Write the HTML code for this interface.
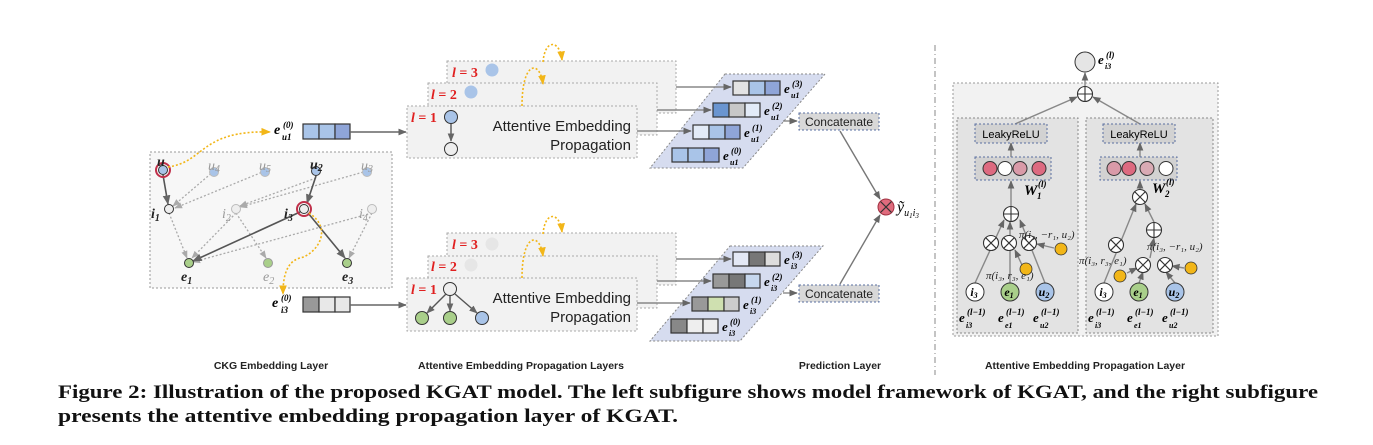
<!DOCTYPE html>
<html><head><meta charset="utf-8"><style>
html,body{margin:0;padding:0;background:#fff;}
svg{display:block;}
.s{font-family:"Liberation Sans",sans-serif;}
.m{font-family:"Liberation Serif",serif;font-style:italic;font-weight:bold;}
</style></head><body>
<svg width="1373" height="445" viewBox="0 0 1373 445" xmlns="http://www.w3.org/2000/svg">
<defs>
<marker id="a" viewBox="0 0 10 10" refX="9" refY="5" markerWidth="6" markerHeight="6" orient="auto"><path d="M0,1 L10,5 L0,9z" fill="#666"/></marker>
<marker id="ag" viewBox="0 0 10 10" refX="9" refY="5" markerWidth="6" markerHeight="6" orient="auto"><path d="M0,1 L10,5 L0,9z" fill="#aaa"/></marker>
<marker id="ay" viewBox="0 0 10 10" refX="9" refY="5" markerWidth="6" markerHeight="6" orient="auto"><path d="M0,1 L10,5 L0,9z" fill="#f2b618"/></marker>
</defs>

<!-- CKG box -->
<rect x="150" y="152" width="242" height="136" fill="#f7f7f7" stroke="#999" stroke-dasharray="2,2"/>
<g stroke="#aaa" stroke-width="1.3" stroke-dasharray="2,2" fill="none" marker-end="url(#ag)">
<line x1="214" y1="171" x2="173" y2="206"/>
<line x1="265" y1="171" x2="175" y2="208"/>
<line x1="367" y1="171" x2="240" y2="207"/>
<line x1="316" y1="178" x2="240" y2="206"/>
<line x1="169" y1="213" x2="187" y2="258"/>
<line x1="236" y1="213" x2="192" y2="258"/>
<line x1="236" y1="213" x2="266" y2="258"/>
<line x1="372" y1="213" x2="193" y2="262"/>
<line x1="372" y1="213" x2="349" y2="258"/>
</g>
<g stroke="#555" stroke-width="1.6" fill="none" marker-end="url(#a)">
<line x1="163" y1="175" x2="168" y2="204"/>
<line x1="316" y1="176" x2="307" y2="203"/>
<line x1="300" y1="212" x2="193" y2="261"/>
<line x1="308" y1="213" x2="345" y2="258"/>
</g>
<g stroke="#333" stroke-width="1">
<circle cx="163" cy="170" r="7" fill="none" stroke="#c0304a" stroke-width="2"/>
<circle cx="163" cy="170" r="4.5" fill="#a9c4e8"/>
<circle cx="214" cy="172" r="4.5" fill="#a9c4e8" stroke="#bbb"/>
<circle cx="265" cy="172" r="4.5" fill="#a9c4e8" stroke="#bbb"/>
<circle cx="316" cy="171" r="4.5" fill="#a9c4e8"/>
<circle cx="367" cy="172" r="4.5" fill="#a9c4e8" stroke="#bbb"/>
<circle cx="169" cy="209" r="4.5" fill="#eee"/>
<circle cx="236" cy="209" r="4.5" fill="#eee" stroke="#bbb"/>
<circle cx="304" cy="209" r="7" fill="none" stroke="#c0304a" stroke-width="2"/>
<circle cx="304" cy="209" r="4.5" fill="#eee"/>
<circle cx="372" cy="209" r="4.5" fill="#eee" stroke="#bbb"/>
<circle cx="189" cy="263" r="4.5" fill="#a9cf8a"/>
<circle cx="268" cy="263" r="4.5" fill="#a9cf8a" stroke="#999"/>
<circle cx="347" cy="263" r="4.5" fill="#a9cf8a"/>
</g>
<g class="m" font-size="14">
<text x="157" y="166" fill="#222">u</text>
<text x="208" y="170" fill="#999" font-weight="normal">u<tspan font-size="10" dy="2">4</tspan></text>
<text x="259" y="170" fill="#999" font-weight="normal">u<tspan font-size="10" dy="2">5</tspan></text>
<text x="310" y="169" fill="#222">u<tspan font-size="10" dy="2">2</tspan></text>
<text x="361" y="170" fill="#999" font-weight="normal">u<tspan font-size="10" dy="2">3</tspan></text>
<text x="151" y="218" fill="#222">i<tspan font-size="10" dy="3">1</tspan></text>
<text x="222" y="218" fill="#999" font-weight="normal">i<tspan font-size="10" dy="3">2</tspan></text>
<text x="284" y="218" fill="#222">i<tspan font-size="10" dy="3">3</tspan></text>
<text x="359" y="218" fill="#999" font-weight="normal">i<tspan font-size="10" dy="3">4</tspan></text>
<text x="181" y="281" fill="#222">e<tspan font-size="10" dy="3">1</tspan></text>
<text x="263" y="281" fill="#999" font-weight="normal">e<tspan font-size="10" dy="3">2</tspan></text>
<text x="342" y="281" fill="#222">e<tspan font-size="10" dy="3">3</tspan></text>
</g>

<!-- e labels + input bars -->
<text class="m" font-size="14" x="274" y="134">e<tspan x="283" y="128" font-size="9">(0)</tspan><tspan x="282" y="140" font-size="9">u1</tspan></text>
<g stroke="#333" stroke-width="1.2">
<rect x="303" y="124" width="16" height="15" fill="#a9c4e8"/><rect x="319" y="124" width="16" height="15" fill="#a9c4e8"/><rect x="335" y="124" width="15" height="15" fill="#8fa5d8"/>
<rect x="303" y="297" width="16" height="15" fill="#999"/><rect x="319" y="297" width="16" height="15" fill="#e8e8e8"/><rect x="335" y="297" width="15" height="15" fill="#e8e8e8"/>
</g>
<text class="m" font-size="14" x="272" y="307">e<tspan x="281" y="301" font-size="9">(0)</tspan><tspan x="281" y="313" font-size="9">i3</tspan></text>
<g stroke="#666" stroke-width="1.4" marker-end="url(#a)">
<line x1="350" y1="132" x2="406" y2="132"/>
<line x1="350" y1="305" x2="406" y2="305"/>
</g>

<!-- propagation boxes -->
<g fill="#f2f2f2" stroke="#aaa" stroke-dasharray="2,2">
<rect x="447" y="61" width="229" height="52"/>
<rect x="428" y="83" width="229" height="52"/>
<rect x="407" y="106" width="230" height="52"/>
<rect x="447" y="233" width="229" height="52"/>
<rect x="428" y="256" width="229" height="52"/>
<rect x="407" y="278" width="230" height="53"/>
</g>
<!-- yellow curves -->
<g stroke="#f2b618" stroke-width="1.6" stroke-dasharray="2,2" fill="none" marker-end="url(#ay)">
<path d="M168,167 C205,162 200,130 270,132"/>
<path d="M309,213 C335,230 315,255 300,258 C285,262 283,280 283,294"/>
<path d="M522,106 C522,60 540,60 543,84"/>
<path d="M543,62 C545,38 560,40 562,60"/>
<path d="M522,278 C522,232 540,232 543,256"/>
<path d="M543,234 C545,210 560,212 562,232"/>
</g>
<g fill="#e02020" font-family="Liberation Serif,serif" font-weight="bold" font-size="14">
<text x="452" y="77"><tspan font-style="italic">l</tspan> = 3</text>
<text x="431" y="99"><tspan font-style="italic">l</tspan> = 2</text>
<text x="411" y="122"><tspan font-style="italic">l</tspan> = 1</text>
<text x="452" y="249"><tspan font-style="italic">l</tspan> = 3</text>
<text x="431" y="271"><tspan font-style="italic">l</tspan> = 2</text>
<text x="411" y="294"><tspan font-style="italic">l</tspan> = 1</text>
</g>
<circle cx="492" cy="70" r="6.5" fill="#a9c4e8"/>
<circle cx="471" cy="92" r="6.5" fill="#a9c4e8"/>
<circle cx="451" cy="117" r="6.5" fill="#a9c4e8" stroke="#333"/>
<line x1="451" y1="124" x2="451" y2="141" stroke="#555" stroke-width="1.4" marker-end="url(#a)"/>
<circle cx="451" cy="149" r="6.5" fill="#eee" stroke="#333"/>
<circle cx="492" cy="244" r="6.5" fill="#e6e6e6"/>
<circle cx="471" cy="265" r="6.5" fill="#e6e6e6"/>
<circle cx="450" cy="289" r="6.5" fill="#eee" stroke="#333"/>
<g stroke="#555" stroke-width="1.4" marker-end="url(#a)">
<line x1="446" y1="294" x2="427" y2="313"/>
<line x1="450" y1="296" x2="450" y2="311"/>
<line x1="455" y1="294" x2="477" y2="313"/>
</g>
<circle cx="422" cy="318" r="6.5" fill="#a9cf8a" stroke="#333"/>
<circle cx="450" cy="318" r="6.5" fill="#a9cf8a" stroke="#333"/>
<circle cx="482" cy="318" r="6.5" fill="#a9c4e8" stroke="#333"/>
<g class="s" font-size="15" fill="#222" text-anchor="end">
<text x="631" y="131">Attentive Embedding</text>
<text x="631" y="150">Propagation</text>
<text x="631" y="303">Attentive Embedding</text>
<text x="631" y="322">Propagation</text>
</g>

<!-- parallelograms -->
<polygon points="725,74 825,74 743,168 650,168" fill="#d6dcef" stroke="#888" stroke-dasharray="2,2"/>
<polygon points="730,246 823,246 740,341 650,341" fill="#d6dcef" stroke="#888" stroke-dasharray="2,2"/>
<g stroke="#888" stroke-width="1.4" marker-end="url(#a)">
<line x1="676" y1="87" x2="731" y2="87"/>
<line x1="657" y1="110" x2="711" y2="110"/>
<line x1="637" y1="131" x2="691" y2="131"/>
<line x1="676" y1="259" x2="731" y2="259"/>
<line x1="657" y1="281" x2="711" y2="281"/>
<line x1="637" y1="303" x2="690" y2="303"/>
<line x1="783" y1="121" x2="797" y2="121"/>
<line x1="783" y1="293" x2="797" y2="293"/>
</g>
<g stroke="#333" stroke-width="1.2">
<rect x="733" y="81" width="16" height="14" fill="#e3e3e3"/><rect x="749" y="81" width="16" height="14" fill="#a9c4e8"/><rect x="765" y="81" width="15" height="14" fill="#8fa5d8"/>
<rect x="713" y="103" width="16" height="14" fill="#6a95d0"/><rect x="729" y="103" width="16" height="14" fill="#c8c8c8"/><rect x="745" y="103" width="15" height="14" fill="#e3ebf7"/>
<rect x="693" y="125" width="16" height="14" fill="#e3ebf7"/><rect x="709" y="125" width="16" height="14" fill="#a9c4e8"/><rect x="725" y="125" width="15" height="14" fill="#8fa5d8"/>
<rect x="672" y="148" width="16" height="14" fill="#a9c4e8"/><rect x="688" y="148" width="16" height="14" fill="#a9c4e8"/><rect x="704" y="148" width="15" height="14" fill="#8fa5d8"/>
<rect x="733" y="252" width="16" height="14" fill="#e3e8f5"/><rect x="749" y="252" width="16" height="14" fill="#777"/><rect x="765" y="252" width="15" height="14" fill="#ddd"/>
<rect x="713" y="274" width="16" height="14" fill="#999"/><rect x="729" y="274" width="16" height="14" fill="#777"/><rect x="745" y="274" width="15" height="14" fill="#c6d7ee"/>
<rect x="692" y="297" width="16" height="14" fill="#999"/><rect x="708" y="297" width="16" height="14" fill="#cfe0b0"/><rect x="724" y="297" width="15" height="14" fill="#ccc"/>
<rect x="671" y="319" width="16" height="14" fill="#888"/><rect x="687" y="319" width="16" height="14" fill="#eee"/><rect x="703" y="319" width="15" height="14" fill="#eee"/>
</g>
<g class="m" font-size="13">
<text x="784" y="93">e<tspan x="792" y="87" font-size="9">(3)</tspan><tspan x="791" y="98" font-size="8">u1</tspan></text>
<text x="764" y="115">e<tspan x="772" y="109" font-size="9">(2)</tspan><tspan x="771" y="120" font-size="8">u1</tspan></text>
<text x="744" y="137">e<tspan x="752" y="131" font-size="9">(1)</tspan><tspan x="751" y="142" font-size="8">u1</tspan></text>
<text x="723" y="160">e<tspan x="731" y="154" font-size="9">(0)</tspan><tspan x="730" y="165" font-size="8">u1</tspan></text>
<text x="784" y="264">e<tspan x="792" y="258" font-size="9">(3)</tspan><tspan x="791" y="269" font-size="8">i3</tspan></text>
<text x="764" y="286">e<tspan x="772" y="280" font-size="9">(2)</tspan><tspan x="771" y="291" font-size="8">i3</tspan></text>
<text x="743" y="309">e<tspan x="751" y="303" font-size="9">(1)</tspan><tspan x="750" y="314" font-size="8">i3</tspan></text>
<text x="722" y="331">e<tspan x="730" y="325" font-size="9">(0)</tspan><tspan x="729" y="336" font-size="8">i3</tspan></text>
</g>

<!-- concatenate + prediction -->
<rect x="799" y="113" width="80" height="17" fill="#d8d8d8" stroke="#5a6fa0" stroke-dasharray="2,2"/>
<rect x="799" y="285" width="80" height="17" fill="#d8d8d8" stroke="#5a6fa0" stroke-dasharray="2,2"/>
<text x="839" y="126" class="s" font-size="12" text-anchor="middle" fill="#222">Concatenate</text>
<text x="839" y="298" class="s" font-size="12" text-anchor="middle" fill="#222">Concatenate</text>
<g stroke="#777" stroke-width="1.4" marker-end="url(#a)">
<line x1="840" y1="131" x2="880" y2="199"/>
<line x1="840" y1="284" x2="880" y2="215"/>
</g>
<circle cx="886" cy="207" r="8" fill="#e06b7d" stroke="#a03040"/>
<path d="M880.5,201.5 L891.5,212.5 M891.5,201.5 L880.5,212.5" stroke="#333" stroke-width="1.2"/>
<text x="897" y="212" font-family="Liberation Serif,serif" font-style="italic" font-size="16">ỹ<tspan font-size="10" dy="4">u</tspan><tspan font-size="7" dy="2">1</tspan><tspan font-size="10" dy="-2">i</tspan><tspan font-size="7" dy="2">3</tspan></text>

<!-- separator -->
<line x1="935" y1="45" x2="935" y2="375" stroke="#888" stroke-dasharray="6,3,1,3"/>

<!-- right panel -->
<rect x="953" y="83" width="265" height="253" fill="#f2f2f2" stroke="#999" stroke-dasharray="2,2"/>
<rect x="957" y="118" width="121" height="215" fill="#e3e3e3" stroke="#888" stroke-dasharray="2,2"/>
<rect x="1086" y="118" width="127" height="215" fill="#e3e3e3" stroke="#888" stroke-dasharray="2,2"/>
<g stroke="#888" stroke-width="1.4" fill="none" marker-end="url(#a)">
<line x1="1085" y1="86" x2="1085" y2="73"/>
<line x1="1015" y1="124" x2="1077" y2="97"/>
<line x1="1140" y1="124" x2="1093" y2="97"/>
<line x1="1011" y1="157" x2="1011" y2="143"/>
<line x1="1140" y1="157" x2="1140" y2="143"/>
<line x1="1011" y1="206" x2="1011" y2="181"/>
<line x1="1140" y1="190" x2="1140" y2="181"/>
<line x1="975" y1="283" x2="1004" y2="220"/>
<line x1="1010" y1="283" x2="1010" y2="222"/>
<line x1="1045" y1="283" x2="1020" y2="220"/>
<line x1="1054" y1="248" x2="1037" y2="244"/>
<line x1="1022" y1="265" x2="1015" y2="250"/>
<line x1="1104" y1="283" x2="1136" y2="204"/>
<line x1="1154" y1="222" x2="1145" y2="204"/>
<line x1="1139" y1="283" x2="1143" y2="272"/>
<line x1="1175" y1="283" x2="1166" y2="272"/>
<line x1="1150" y1="258" x2="1154" y2="238"/>
<line x1="1184" y1="268" x2="1172" y2="266"/>
<line x1="1127" y1="273" x2="1137" y2="268"/>
</g>
<circle cx="1085" cy="62" r="10" fill="#e5e5e5" stroke="#333"/>
<text class="m" font-size="13" x="1098" y="64">e<tspan x="1106" y="58" font-size="9">(l)</tspan><tspan x="1105" y="69" font-size="8">i3</tspan></text>
<rect x="975" y="124" width="72" height="19" fill="#d2d2d2" stroke="#5a6fa0" stroke-dasharray="2,2"/>
<rect x="1103" y="124" width="72" height="19" fill="#d2d2d2" stroke="#5a6fa0" stroke-dasharray="2,2"/>
<text x="1011" y="138" class="s" font-size="11" text-anchor="middle">LeakyReLU</text>
<text x="1139" y="138" class="s" font-size="11" text-anchor="middle">LeakyReLU</text>
<rect x="975" y="157" width="76" height="23" fill="#d2d2d2" stroke="#5a6fa0" stroke-dasharray="2,2"/>
<rect x="1100" y="157" width="77" height="23" fill="#d2d2d2" stroke="#5a6fa0" stroke-dasharray="2,2"/>
<g stroke="#333">
<circle cx="990" cy="168.5" r="7" fill="#dd6a80"/><circle cx="1005" cy="168.5" r="7" fill="#fff"/><circle cx="1020" cy="168.5" r="7" fill="#d99aa8"/><circle cx="1039" cy="168.5" r="7" fill="#dd6a80"/>
<circle cx="1114" cy="168.5" r="7" fill="#d99aa8"/><circle cx="1129" cy="168.5" r="7" fill="#dd6a80"/><circle cx="1147" cy="168.5" r="7" fill="#d9aab4"/><circle cx="1166" cy="168.5" r="7" fill="#fff"/>
</g>
<text class="m" font-size="15" x="1024" y="195">W<tspan x="1038" y="187" font-size="9">(l)</tspan><tspan x="1037" y="199" font-size="9">1</tspan></text>
<text class="m" font-size="15" x="1152" y="193">W<tspan x="1166" y="185" font-size="9">(l)</tspan><tspan x="1165" y="197" font-size="9">2</tspan></text>
<g stroke="#333" stroke-width="1.1" fill="#fff">
<circle cx="1085" cy="94" r="7.5"/><path d="M1077.5,94 h15 M1085,86.5 v15"/>
<circle cx="1011" cy="214" r="7.5"/><path d="M1003.5,214 h15 M1011,206.5 v15"/>
<circle cx="1154" cy="230" r="7.5"/><path d="M1146.5,230 h15 M1154,222.5 v15"/>
</g>
<g stroke="#333" stroke-width="1.1" fill="#fff">
<circle cx="991" cy="243" r="7.5"/><path d="M985.7,237.7 l10.6,10.6 M996.3,237.7 l-10.6,10.6"/>
<circle cx="1009" cy="243" r="7.5"/><path d="M1003.7,237.7 l10.6,10.6 M1014.3,237.7 l-10.6,10.6"/>
<circle cx="1029" cy="243" r="7.5"/><path d="M1023.7,237.7 l10.6,10.6 M1034.3,237.7 l-10.6,10.6"/>
<circle cx="1140" cy="197" r="7.5"/><path d="M1134.7,191.7 l10.6,10.6 M1145.3,191.7 l-10.6,10.6"/>
<circle cx="1116" cy="245" r="7.5"/><path d="M1110.7,239.7 l10.6,10.6 M1121.3,239.7 l-10.6,10.6"/>
<circle cx="1143" cy="265" r="7.5"/><path d="M1137.7,259.7 l10.6,10.6 M1148.3,259.7 l-10.6,10.6"/>
<circle cx="1165" cy="265" r="7.5"/><path d="M1159.7,259.7 l10.6,10.6 M1170.3,259.7 l-10.6,10.6"/>
</g>
<g fill="#f2b618" stroke="#333" stroke-width="0.8">
<circle cx="1061" cy="249" r="6"/><circle cx="1026" cy="269" r="6"/>
<circle cx="1120" cy="276" r="6"/><circle cx="1191" cy="268" r="6"/>
</g>
<g stroke="#333">
<circle cx="975" cy="292" r="9" fill="#fff"/><circle cx="1010" cy="292" r="9" fill="#a9cf8a"/><circle cx="1045" cy="292" r="9" fill="#a9c4e8"/>
<circle cx="1104" cy="292" r="9" fill="#fff"/><circle cx="1139" cy="292" r="9" fill="#a9cf8a"/><circle cx="1175" cy="292" r="9" fill="#a9c4e8"/>
</g>
<g class="m" font-size="12" text-anchor="middle">
<text x="974" y="296">i<tspan font-size="8" dy="2">3</tspan></text><text x="1009" y="296">e<tspan font-size="8" dy="2">1</tspan></text><text x="1044" y="296">u<tspan font-size="8" dy="2">2</tspan></text>
<text x="1103" y="296">i<tspan font-size="8" dy="2">3</tspan></text><text x="1138" y="296">e<tspan font-size="8" dy="2">1</tspan></text><text x="1174" y="296">u<tspan font-size="8" dy="2">2</tspan></text>
</g>
<g font-family="Liberation Serif,serif" font-style="italic" font-size="11" fill="#222">
<text x="986" y="279">π(i₃, r₃, e₁)</text>
<text x="1019" y="238">π(i₃, −r₁, u₂)</text>
<text x="1079" y="264">π(i₃, r₃, e₁)</text>
<text x="1147" y="250">π(i₃, −r₁, u₂)</text>
</g>
<g class="m" font-size="13">
<text x="959" y="322">e<tspan x="967" y="315" font-size="9">(l−1)</tspan><tspan x="966" y="328" font-size="8">i3</tspan></text>
<text x="998" y="322">e<tspan x="1006" y="315" font-size="9">(l−1)</tspan><tspan x="1005" y="328" font-size="8">e1</tspan></text>
<text x="1033" y="322">e<tspan x="1041" y="315" font-size="9">(l−1)</tspan><tspan x="1040" y="328" font-size="8">u2</tspan></text>
<text x="1088" y="322">e<tspan x="1096" y="315" font-size="9">(l−1)</tspan><tspan x="1095" y="328" font-size="8">i3</tspan></text>
<text x="1127" y="322">e<tspan x="1135" y="315" font-size="9">(l−1)</tspan><tspan x="1134" y="328" font-size="8">e1</tspan></text>
<text x="1162" y="322">e<tspan x="1170" y="315" font-size="9">(l−1)</tspan><tspan x="1169" y="328" font-size="8">u2</tspan></text>
</g>

<!-- section labels -->
<g class="s" font-size="10.5" font-weight="bold" text-anchor="middle" fill="#222">
<text x="271" y="369">CKG Embedding Layer</text>
<text x="521" y="369">Attentive Embedding Propagation Layers</text>
<text x="840" y="369">Prediction Layer</text>
<text x="1085" y="369">Attentive Embedding Propagation Layer</text>
</g>
<g font-family="Liberation Serif,serif" font-weight="bold" font-size="19" fill="#111">
<text x="58" y="398" textLength="1260" lengthAdjust="spacingAndGlyphs">Figure 2: Illustration of the proposed KGAT model. The left subfigure shows model framework of KGAT, and the right subfigure</text>
<text x="58" y="422" textLength="620" lengthAdjust="spacingAndGlyphs">presents the attentive embedding propagation layer of KGAT.</text>
</g>
</svg>
</body></html>
